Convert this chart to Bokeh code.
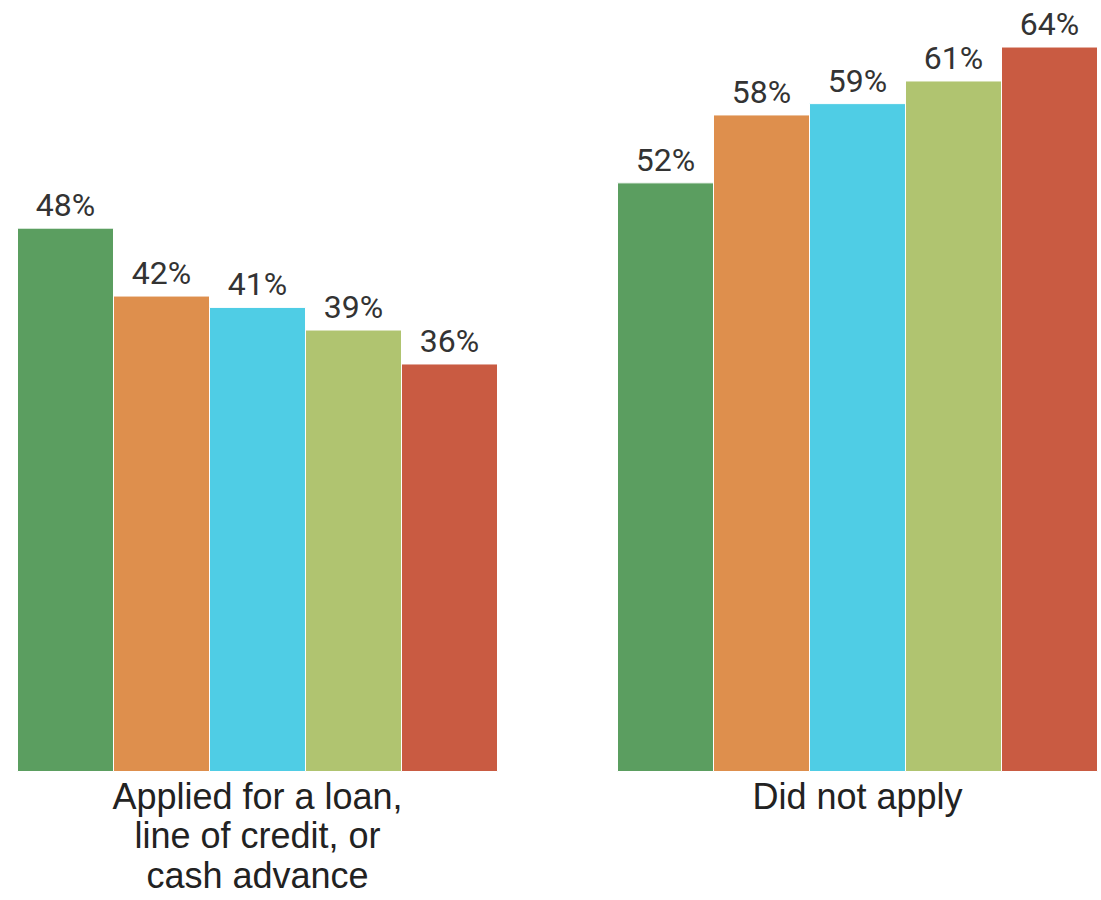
from bokeh.plotting import figure
from bokeh.models import ColumnDataSource, Range1d
from bokeh.core.properties import value
from bokeh.embed import file_html
from bokeh.resources import INLINE

# Data
groups = ["Applied for a loan,\nline of credit, or\ncash advance", "Did not apply"]
series = ["S1", "S2", "S3", "S4", "S5"]
applied = [48, 42, 41, 39, 36]
did_not_apply = [52, 58, 59, 61, 64]
colors = ["#5b9e60", "#de8f4d", "#4fcde5", "#b0c470", "#c95b42"]

values_by_group = [applied, did_not_apply]

GROUP_STEP = 6.25
xs, tops, cols, labels = [], [], [], []
for g, vals in enumerate(values_by_group):
    for i, v in enumerate(vals):
        xs.append(g * GROUP_STEP + i + 0.5)
        tops.append(v)
        cols.append(colors[i])
        labels.append(f"{v}%")

src = ColumnDataSource(dict(x=xs, top=tops, color=cols, label=labels))

W, H = 1101, 900
unit_px = 96.0
left_px = 17
px_per_pct = 11.32
base_px = 771
y_top = base_px / px_per_pct
y_bot = -(H - base_px) / px_per_pct
x_start = -left_px / unit_px

p = figure(width=W, height=H, output_backend="svg", toolbar_location=None,
           x_range=Range1d(x_start, x_start + W / unit_px),
           y_range=Range1d(y_bot, y_top), min_border=0)
p.axis.visible = False
p.grid.visible = False
p.outline_line_color = None
p.background_fill_color = "white"

p.vbar(x="x", top="top", bottom=0, width=1.0, fill_color="color",
       line_color="white", line_width=1, source=src)

p.text(x="x", y="top", text="label", source=src,
       text_font=value("Roboto"), text_font_size="32px", text_color="#333333",
       text_align="center", text_baseline="alphabetic", y_offset=-23)

gsrc = ColumnDataSource(dict(
    x=[g * GROUP_STEP + 2.5 for g in range(len(groups))],
    y=[0] * len(groups),
    text=groups))
p.text(x="x", y="y", text="text", source=gsrc,
       text_font=value("Liberation Sans"), text_font_size="36px", text_color="#222222",
       text_align="center", text_baseline="top", text_line_height=0.97,
       y_offset=4)

open("out.html", "w").write(file_html(p, INLINE))
